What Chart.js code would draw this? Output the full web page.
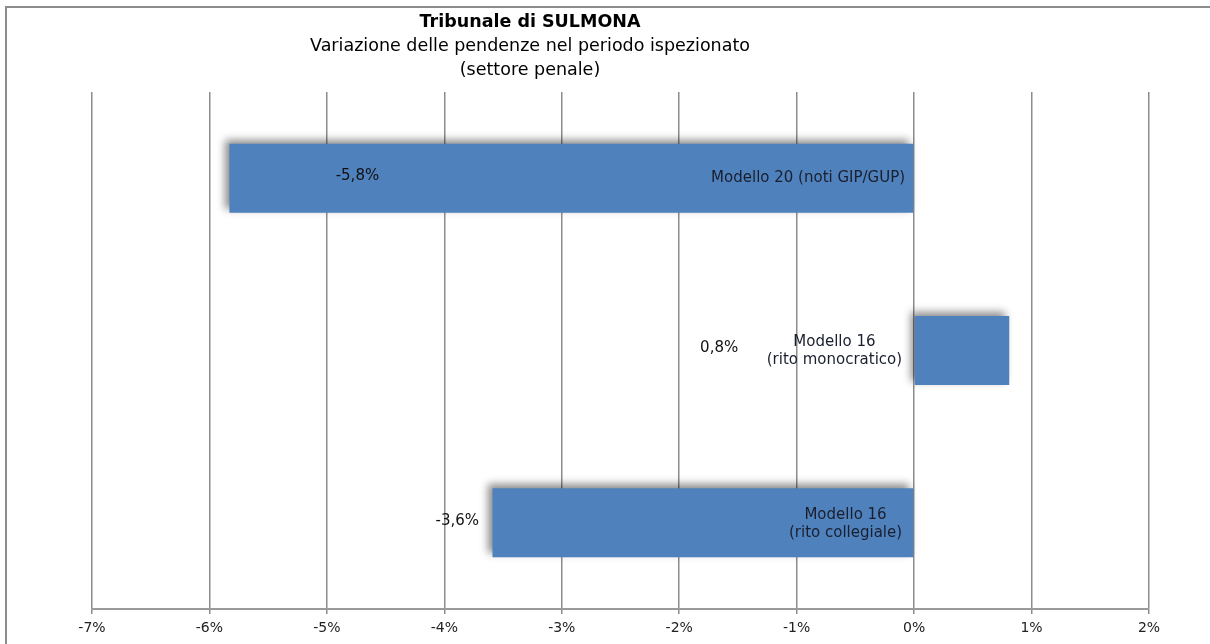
<!DOCTYPE html>
<html>
<head>
<meta charset="utf-8">
<script src="https://cdn.jsdelivr.net/npm/chart.js@4"></script>
<style>
  html, body { margin: 0; padding: 0; background: #fff; }
  #wrap { width: 1210px; height: 644px; }
</style>
</head>
<body>
<div id="wrap"><canvas id="pendenze"></canvas></div>
<script>
// dati
const categorie = [['Modello 20 (noti GIP/GUP)'], ['Modello 16', '(rito monocratico)'], ['Modello 16', '(rito collegiale)']];
const variazioni = [-5.83, 0.81, -3.59];
const tickLabels = ['-7%', '-6%', '-5%', '-4%', '-3%', '-2%', '-1%', '0%', '1%', '2%'];
const titolo = 'Tribunale di SULMONA';
const sottotitolo = ['Variazione delle pendenze nel periodo ispezionato', '(settore penale)'];

const FONT = 'DejaVu Sans';

// cornice e titoli
const cornice = {
    id: 'cornice',
    beforeDraw(chart) {
        const c = chart.ctx;
        c.save();
        c.fillStyle = '#fff';
        c.fillRect(0, 0, chart.width, chart.height);
        c.strokeStyle = '#8c8c8c';
        c.lineWidth = 2;
        c.strokeRect(6, 7, chart.width + 20, chart.height + 20);
        c.fillStyle = '#000';
        c.textAlign = 'center';
        c.textBaseline = 'middle';
        const cx = 530;
        c.font = 'bold 17.5px ' + FONT;
        c.fillText(titolo, cx, 22);
        c.font = '17.5px ' + FONT;
        c.fillText(sottotitolo[0], cx, 46);
        c.fillText(sottotitolo[1], cx, 70);
        c.restore();
    }
};

// ombra delle barre
const ombra = {
    id: 'ombra',
    beforeDatasetDraw(chart) {
        const c = chart.ctx;
        c.save();
        c.shadowColor = 'rgba(0,0,0,0.45)';
        c.shadowBlur = 8;
        c.shadowOffsetX = -4;
        c.shadowOffsetY = -4;
    },
    afterDatasetDraw(chart) {
        chart.ctx.restore();
    }
};

// etichette: categoria dentro la barra vicino allo zero, valore spostato a sinistra
const etichette = {
    id: 'etichette',
    afterDatasetsDraw(chart) {
        const c = chart.ctx;
        const xs = chart.scales.x;
        const meta = chart.getDatasetMeta(0);
        const zero = xs.getPixelForValue(0);
        const spostamenti = [1.09, -2.47, -0.30]; // in unità di asse rispetto al valore
        c.save();
        c.textBaseline = 'middle';
        meta.data.forEach((bar, i) => {
            const righe = categorie[i];
            c.font = '15px ' + FONT;
            c.fillStyle = '#1a1f2e';
            if (righe.length === 1) {
                c.textAlign = 'right';
                c.fillText(righe[0], zero - 9, bar.y);
            } else {
                c.textAlign = 'center';
                const w = Math.max(...righe.map(r => c.measureText(r).width));
                const mx = zero - 12 - w / 2;
                c.fillText(righe[0], mx, bar.y - 8);
                c.fillText(righe[1], mx, bar.y + 10);
            }
            c.font = '15px ' + FONT;
            c.fillStyle = '#111';
            c.textAlign = 'center';
            const v = variazioni[i];
            const lx = xs.getPixelForValue(v + spostamenti[i]);
            c.fillText(v.toFixed(1).replace('.', ',') + '%', lx, bar.y - 2);
        });
        c.restore();
    }
};

new Chart(document.getElementById('pendenze'), {
    type: 'bar',
    data: {
        labels: categorie,
        datasets: [{
            data: variazioni,
            backgroundColor: '#4f81bd',
            borderWidth: 0,
            barPercentage: 0.8,
            categoryPercentage: 0.5
        }]
    },
    plugins: [cornice, ombra, etichette],
    options: {
        indexAxis: 'y',
        responsive: true,
        maintainAspectRatio: false,
        animation: false,
        layout: {
            padding: { left: 92, right: 61, top: 92, bottom: 2 }
        },
        scales: {
            x: {
                min: -7,
                max: 2,
                ticks: {
                    stepSize: 1,
                    color: '#222',
                    padding: 7,
                    font: { family: FONT, size: 14, lineHeight: 1.0 },
                    callback: (v, i) => tickLabels[i]
                },
                grid: {
                    color: '#8c8c8c',
                    lineWidth: 1.5,
                    tickLength: 5
                },
                border: { color: '#9a9a9a', width: 2 }
            },
            y: {
                display: false
            }
        },
        plugins: {
            legend: { display: false },
            title: { display: false },
            tooltip: { enabled: false }
        }
    }
});
</script>
</body>
</html>
